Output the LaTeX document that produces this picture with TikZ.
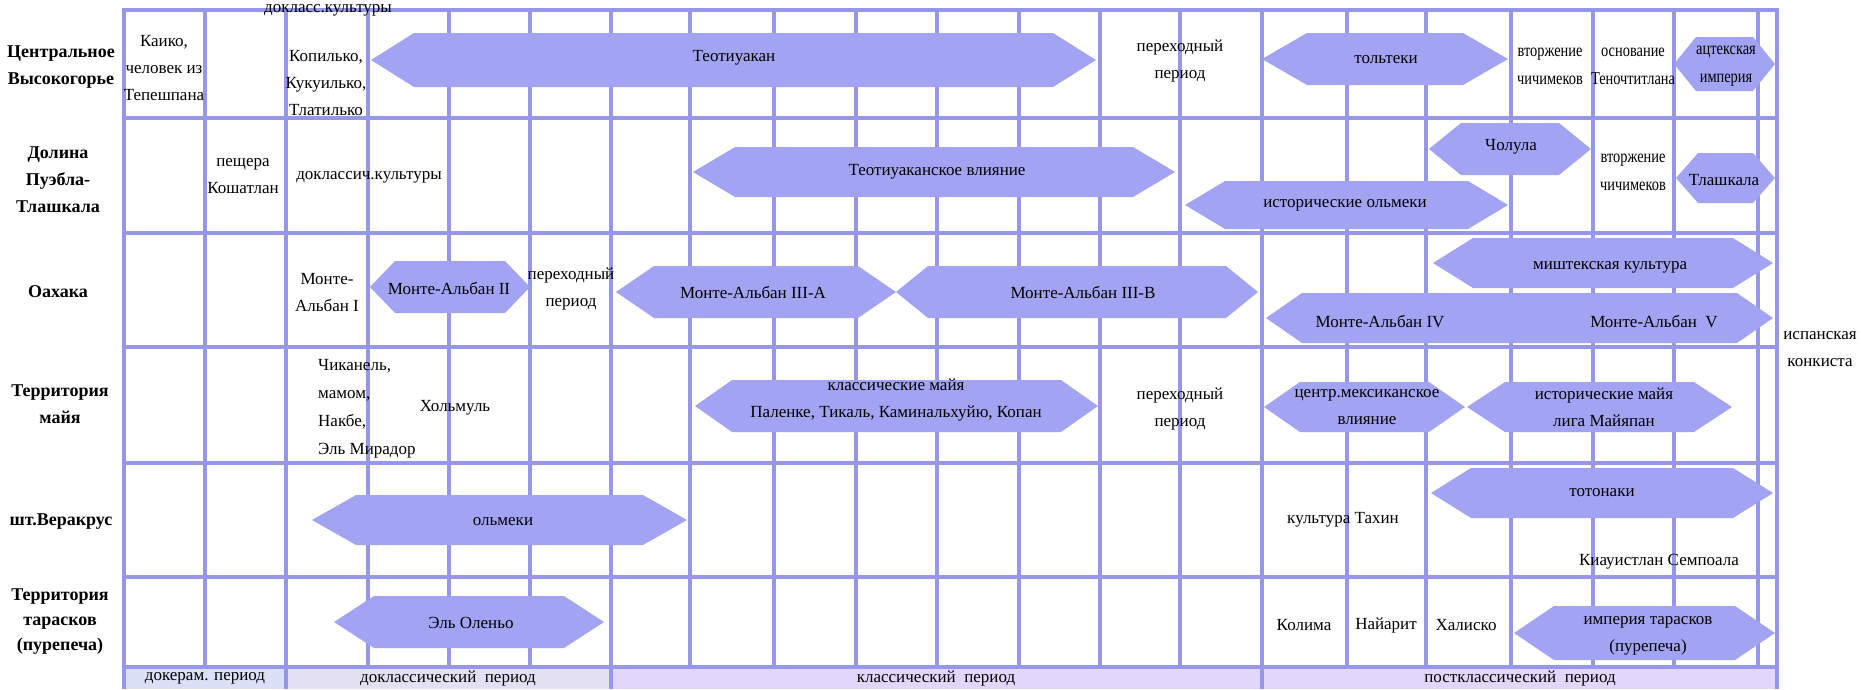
\documentclass[tikz,border=0pt]{standalone}
\usepackage{fontspec}
\setmainfont{Liberation Serif}
\newfontfamily\narrowfont[FakeStretch=0.8]{Liberation Serif}
\definecolor{gridc}{RGB}{150,150,235}
\definecolor{hexc}{RGB}{163,163,243}
\definecolor{bandA}{RGB}{220,224,246}
\definecolor{bandB}{RGB}{226,224,242}
\definecolor{bandC}{RGB}{226,214,250}
\tikzset{%
   gridline/.style={
      draw=gridc,
      line width=3.5pt
   },
   frameline/.style={
      draw=gridc,
      line width=4.5pt
   },
   era/.style={
      fill=hexc
   },
   txt/.style={
      inner sep=0pt,
      align=center,
      font=\fontsize{17}{27}\selectfont
   },
   narrowtxt/.style={
      txt,
      font=\narrowfont\fontsize{18}{28}\selectfont
   },
   region/.style={
      inner sep=0pt,
      align=center,
      font=\bfseries\fontsize{18}{27}\selectfont
   },
}
\begin{document}
\begin{tikzpicture}[x=1pt, y=-1pt]
   \useasboundingbox (0,0) rectangle (1861,689);
   % period band
   \fill[bandA] (124,667) rectangle (286,689);
   \fill[bandB] (286,667) rectangle (611,689);
   \fill[bandC] (611,667) rectangle (1777,689);
   % grid
   \foreach \x in {205,368,449,530,690,774,856,937,1019,1100,1180,1347,1426,1511,1593,1674,1758}
      \draw[gridline] (\x,10) -- (\x,667);
   \foreach \x in {286,611,1262}
      \draw[gridline] (\x,10) -- (\x,689);
   \foreach \y in {118,233,347,463,577,667}
      \draw[gridline] (124,\y) -- (1777,\y);
   \draw[frameline] (124,689) -- (124,10) -- (1777,10) -- (1777,689);
   % periods
   \foreach \xa/\xb/\yc/\hh/\sl in {371/1096/60/27/43, 1262/1508/59/26/45, 1674/1775/64/27/22,
         693/1175/172/25/42, 1429/1591/149/26/32, 1185/1508/205/24/40, 1676/1775/178/25/22,
         370/530/287/26/25, 616/896/292/26/38, 896/1258/292/26/32, 1433/1773/263/25/40,
         1266/1773/318/25/36, 695/1098/406/26/37, 1264/1465/407/25/36, 1467/1732/407/25/38,
         312/687/520/25/44, 1431/1773/493/25/40, 334/604/622/26/40, 1514/1775/633/27/40}
      \fill[era] (\xa,\yc) -- (\xa+\sl,\yc-\hh) -- (\xb-\sl,\yc-\hh) -- (\xb,\yc)
         -- (\xb-\sl,\yc+\hh) -- (\xa+\sl,\yc+\hh) -- cycle;
   % regions
   \node[region] (r1) at (61,67) {Центральное\\Высокогорье};
   \node[region] (r2) at (58,180) {Долина\\Пуэбла-\\Тлашкала};
   \node[region] (r3) at (58,292) {Оахака};
   \node[region] (r4) at (60,404) {Территория\\майя};
   \node[region] (r5) at (61,522) {шт.Веракрус};
   \node[region, font=\bfseries\fontsize{18}{25}\selectfont] (r6) at (60,622) {Территория\\тарасков\\(пурепеча)};
   % central highlands
   \node[txt] (kaiko) at (164,68) {Каико,\\человек из\\Тепешпана};
   \node[txt] (precl) at (328,10) {докласс.культуры};
   \node[txt] (copil) at (326,83) {Копилько,\\Кукуилько,\\Тлатилько};
   \node[txt] (teo) at (734,58) {Теотиуакан};
   \node[txt] (trans1) at (1180,61) {переходный\\период};
   \node[txt] (tolt) at (1386,60) {тольтеки};
   \node[narrowtxt] (chich1) at (1550,66) {вторжение\\чичимеков};
   \node[narrowtxt] (tenoch) at (1633,66) {основание\\Теночтитлана};
   \node[narrowtxt] (aztec) at (1726,66) {ацтекская\\империя};
   % puebla-tlaxcala
   \node[txt] (cave) at (243,176) {пещера\\Кошатлан};
   \node[txt] (precl2) at (369,177) {доклассич.культуры};
   \node[txt] (teoinf) at (937,172) {Теотиуаканское влияние};
   \node[txt] (cholula) at (1511,147) {Чолула};
   \node[txt] (holm) at (1345,205) {исторические ольмеки};
   \node[narrowtxt] (chich2) at (1633,172) {вторжение\\чичимеков};
   \node[txt] (tlax) at (1724,180) {Тлашкала};
   % oaxaca
   \node[txt] (ma1) at (327,293) {Монте-\\Альбан I};
   \node[txt] (ma2) at (449,288) {Монте-Альбан II};
   \node[txt] (trans3) at (571,289) {переходный\\период};
   \node[txt] (ma3a) at (753,292) {Монте-Альбан III-A};
   \node[txt] (ma3b) at (1083,292) {Монте-Альбан III-B};
   \node[txt] (mixt) at (1610,267) {миштекская культура};
   \node[txt] (ma4) at (1380,322) {Монте-Альбан IV};
   \node[txt] (ma5) at (1654,322) {Монте-Альбан\enspace V};
   \node[txt] (conq) at (1820,349) {испанская\\конкиста};
   % maya
   \node[txt, anchor=west, align=left, font=\fontsize{17}{28}\selectfont] (chik) at (318,409) {Чиканель,\\мамом,\\Накбе,\\Эль Мирадор};
   \node[txt] (holmul) at (455,408) {Хольмуль};
   \node[txt] (clmaya) at (896,400) {классические майя\\Паленке, Тикаль, Каминальхуйю, Копан};
   \node[txt] (trans4) at (1180,409) {переходный\\период};
   \node[txt] (cmex) at (1367,407) {центр.мексиканское\\влияние};
   \node[txt] (hmaya) at (1604,407) {исторические майя\\лига Майяпан};
   % veracruz
   \node[txt] (olmec) at (503,522) {ольмеки};
   \node[txt] (tajin) at (1343,520) {культура Тахин};
   \node[txt] (toton) at (1602,493) {тотонаки};
   \node[txt] (cemp) at (1659,562) {Киауистлан Семпоала};
   % tarascans
   \node[txt] (openo) at (471,623) {Эль Оленьо};
   \node[txt] (colima) at (1304,625) {Колима};
   \node[txt] (nayar) at (1386,625) {Найарит};
   \node[txt] (jal) at (1466,625) {Халиско};
   \node[txt] (taras) at (1648,636) {империя тарасков\\(пурепеча)};
   % periods band
   \node[txt] (pre) at (205,678) {докерам. период};
   \node[txt] (form) at (448,678) {доклассический\enspace период};
   \node[txt] (clas) at (936,678) {классический\enspace период};
   \node[txt] (post) at (1520,678) {постклассический\enspace период};
\end{tikzpicture}
\end{document}
